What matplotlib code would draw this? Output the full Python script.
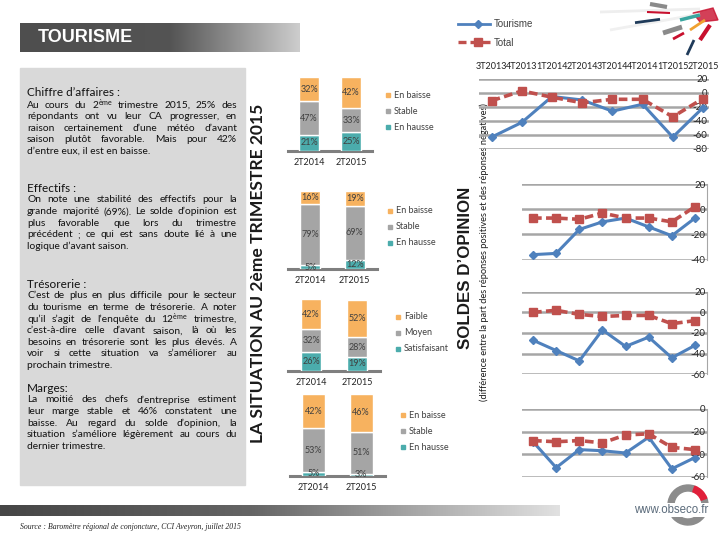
import numpy as np
import matplotlib
matplotlib.use('Agg')
import matplotlib.pyplot as plt
from matplotlib.patches import Rectangle, Wedge, Polygon

plt.rcParams['font.family'] = ['Lato', 'DejaVu Sans']
plt.rcParams['mathtext.fontset'] = 'custom'
plt.rcParams['mathtext.rm'] = 'Lato'
plt.rcParams['mathtext.it'] = 'Lato:italic'
plt.rcParams['mathtext.bf'] = 'Lato:bold'
plt.rcParams['axes.unicode_minus'] = False

# ---- data ----
periods = ['3T2013', '4T2013', '1T2014', '2T2014', '3T2014', '4T2014', '1T2015', '2T2015']
tourisme_ca = [-63, -42, -5, -10, -26, -16, -63, -21]
total_ca = [-11, 3, -6, -14, -9, -9, -34, -8]
tourisme_eff = [-36, -35, -16, -10, -7, -14, -21, -7]
total_eff = [-7, -7, -8, -3, -7, -7, -10, 2]
tourisme_tres = [-27, -37, -47, -17, -33, -24, -44, -32]
total_tres = [0, 2, -2, -4, -3, -3, -11, -8]
tourisme_marg = [-29, -52, -36, -37, -39, -25, -53, -43]
total_marg = [-28, -29, -28, -30, -23, -22, -34, -36]

bar_years = ['2T2014', '2T2015']
ca_hausse, ca_stable, ca_baisse = [21, 25], [47, 33], [32, 42]
eff_hausse, eff_stable, eff_baisse = [5, 12], [79, 69], [16, 19]
tres_satisf, tres_moyen, tres_faible = [26, 19], [32, 28], [42, 52]
marg_hausse, marg_stable, marg_baisse = [5, 3], [53, 51], [42, 46]

ORANGE = '#F7B25F'
GREY = '#A5A5A5'
TEAL = '#4BACAC'
BLUE = '#4F81BD'
RED = '#C0504D'
TXT = '#404040'

fig = plt.figure(figsize=(7.2, 5.4), dpi=100)
bg = fig.add_axes([0, 0, 1, 1])
bg.axis('off')


def px_axes(l, t, r, b):
    ax = fig.add_axes([l / 720, 1 - b / 540, (r - l) / 720, (b - t) / 540])
    ax.set_facecolor('none')
    return ax


def gradient(x0, x1, y0, y1, stops, cols):
    xs = np.linspace(x0, x1, 300)
    rgb = np.stack([np.interp(xs, stops, [c[i] for c in cols]) for i in range(3)], axis=-1) / 255
    bg.imshow(rgb[None, :, :], extent=[x0, x1, y1, y0], aspect='auto', zorder=1)


# title bar + footer bar
gradient(20, 300, 23, 52, [20, 170, 300], [(78, 78, 78), (84, 84, 84), (205, 205, 205)])
gradient(0, 560, 505, 516, [0, 250, 560], [(70, 70, 70), (100, 100, 100), (225, 225, 225)])
bg.set_xlim(0, 720)
bg.set_ylim(540, 0)
bg.text(38, 37, 'TOURISME', color='white', fontsize=13, fontweight='bold',
        family='Liberation Sans', va='center', zorder=2)

# left text panel
bg.add_patch(Rectangle((20, 68), 225, 417, color='#D9D9D9', zorder=1))

renderer = fig.canvas.get_renderer()


def word_width(s, fs):
    t = bg.text(0, 0, s, fontsize=fs)
    w = t.get_window_extent(renderer=renderer).width
    t.remove()
    return w


def paragraph(title, lines, y0, x0=27, x1=237, fs=7.4, dy=11.6):
    bg.text(x0, y0, title, fontsize=8.5, color='#111111', va='center', zorder=2)
    for i, line in enumerate(lines):
        y = y0 + 12 + i * dy
        words = line.split(' ')
        if i == len(lines) - 1:
            bg.text(x0, y, line, fontsize=fs, color='#111111', va='center', zorder=2)
            continue
        widths = [word_width(w, fs) for w in words]
        gap = (x1 - x0 - sum(widths)) / (len(words) - 1)
        x = x0
        for w, wd in zip(words, widths):
            bg.text(x, y, w, fontsize=fs, color='#111111', va='center', zorder=2)
            x += wd + gap


paragraph("Chiffre d’affaires :", [
    r"Au cours du 2$^{\mathrm{ème}}$ trimestre 2015, 25% des",
    "répondants ont vu leur CA progresser, en",
    "raison certainement d’une météo d’avant",
    "saison plutôt favorable. Mais pour 42%",
    "d’entre eux, il est en baisse."], 93)
paragraph("Effectifs :", [
    "On note une stabilité des effectifs pour la",
    "grande majorité (69%). Le solde d’opinion est",
    "plus favorable que lors du trimestre",
    "précédent ; ce qui est sans doute lié à une",
    "logique d’avant saison."], 188)
paragraph("Trésorerie :", [
    "C’est de plus en plus difficile pour le secteur",
    "du tourisme en terme de trésorerie. A noter",
    r"qu’il s’agit de l’enquête du 12$^{\mathrm{ème}}$ trimestre,",
    "c’est-à-dire celle d’avant saison, là où les",
    "besoins en trésorerie sont les plus élevés. A",
    "voir si cette situation va s’améliorer au",
    "prochain trimestre."], 284)
paragraph("Marges:", [
    "La moitié des chefs d’entreprise estiment",
    "leur marge stable et 46% constatent une",
    "baisse. Au regard du solde d’opinion, la",
    "situation s’améliore légèrement au cours du",
    "dernier trimestre."], 388)

bg.text(20, 527, 'Source : Baromètre régional de conjoncture, CCI Aveyron, juillet 2015',
        fontsize=5.6, style='italic', family='Liberation Serif', color='#222222', va='center')

# vertical titles
bg.text(258, 273, 'LA SITUATION AU 2ème TRIMESTRE 2015', rotation=90, ha='center', va='center',
        fontsize=12.6, fontweight='bold', color='#1a1a1a')
bg.text(465, 268, 'SOLDES D’OPINION', rotation=90, ha='center', va='center',
        fontsize=12.2, fontweight='heavy', family='Liberation Sans', color='#1a1a1a')
bg.text(484, 252, '(différence entre la part des réponses positives et des réponses négatives)',
        rotation=90, ha='center', va='center', fontsize=6.7, color='#1a1a1a')


# stacked bars
def bar_chart(l, t, r, b, width, low, mid, high, names, lx, ly):
    ax = px_axes(l, t, r, b)
    x = np.arange(len(bar_years))
    c1 = ax.bar(x, low, width, color=TEAL, edgecolor='white', lw=1)
    c2 = ax.bar(x, mid, width, bottom=low, color=GREY, edgecolor='white', lw=1)
    c3 = ax.bar(x, high, width, bottom=np.add(low, mid), color=ORANGE, edgecolor='white', lw=1)
    for c, vals in zip([c1, c2, c3], [low, mid, high]):
        ax.bar_label(c, labels=[f'{v}%' for v in vals], label_type='center', fontsize=6.5, color=TXT)
    ax.axhline(0, color='#7F7F7F', lw=2.2, clip_on=False, zorder=0)
    ax.set_xlim(-0.5, 1.5)
    ax.set_ylim(0, 100)
    ax.set_xticks(x, bar_years, fontsize=6.5, color='#222222')
    ax.tick_params(length=0, pad=5)
    ax.set_yticks([])
    for s in ax.spines.values():
        s.set_visible(False)
    for i, (nm, col) in enumerate(zip(names, [ORANGE, GREY, TEAL])):
        y = ly + i * 16
        bg.plot(lx, y, marker='s', ms=3.2, color=col, ls='none')
        bg.text(lx + 6, y, nm, fontsize=6.5, color=TXT, va='center')


bar_chart(288, 77.3, 372, 150.7, 0.48, ca_hausse, ca_stable, ca_baisse,
          ['En baisse', 'Stable', 'En hausse'], 388, 95)
bar_chart(288, 191, 377, 269.3, 0.46, eff_hausse, eff_stable, eff_baisse,
          ['En baisse', 'Stable', 'En hausse'], 390, 210.5)
bar_chart(288, 299, 380, 370.7, 0.43, tres_satisf, tres_moyen, tres_faible,
          ['Faible', 'Moyen', 'Satisfaisant'], 398, 316.5)
bar_chart(290, 394, 385, 476, 0.49, marg_hausse, marg_stable, marg_baisse,
          ['En baisse', 'Stable', 'En hausse'], 403, 415)


# opinion balance lines
def line_chart(l, t, r, b, tour, tot, ylim, step, xl, xr, top=False):
    ax = px_axes(l, t, r, b)
    x = np.arange(len(periods))
    ax.plot(x, tour, color=BLUE, lw=2.2, marker='D', ms=4.5, zorder=3, clip_on=False)
    ax.plot(x, tot, color=RED, lw=2.6, ls=(0, (2.4, 1.2)), marker='s', ms=6, zorder=3, clip_on=False)
    ax.set_xlim(xl, xr)
    ax.set_ylim(*ylim)
    ax.set_yticks(np.arange(ylim[0], ylim[1] + 1, step))
    ax.yaxis.tick_right()
    ax.tick_params(axis='y', length=0, pad=-1, labelsize=7, labelcolor='#222222')
    for lab in ax.get_yticklabels():
        lab.set_horizontalalignment('right')
    ax.grid(axis='y', color='#A6A6A6', lw=1.8)
    for s in ['top', 'left', 'bottom']:
        ax.spines[s].set_visible(False)
    ax.spines['right'].set_color('#A6A6A6')
    if top:
        ax.xaxis.tick_top()
        ax.set_xticks(x, periods, fontsize=6.5, color='#222222')
        ax.tick_params(axis='x', length=0, pad=6)
        ax.spines['right'].set_visible(False)
    else:
        ax.set_xticks([])
    return ax


line_chart(479, 79, 709, 149, tourisme_ca, total_ca, (-80, 20), 20, -0.42, 7.2, top=True)
line_chart(521.7, 184, 707, 259.7, tourisme_eff, total_eff, (-40, 20), 20, -0.49, 7.52)
line_chart(521.7, 291.7, 707, 374.3, tourisme_tres, total_tres, (-60, 20), 20, -0.49, 7.52)
line_chart(521.7, 409, 707, 476.7, tourisme_marg, total_marg, (-60, 0), 20, -0.49, 7.52)

# series legend (top right)
bg.plot([458, 490], [24, 24], color=BLUE, lw=2)
bg.plot(478, 24, marker='D', ms=4.5, color=BLUE)
bg.text(494, 24, 'Tourisme', fontsize=7, color=TXT, va='center', family='Liberation Sans')
bg.plot([458, 490], [42, 42], color=RED, lw=2.4, ls=(0, (2.4, 1.2)))
bg.plot(478, 42, marker='s', ms=6, color=RED)
bg.text(494, 43, 'Total', fontsize=7, color=TXT, va='center', family='Liberation Sans')

# decorative logo rays (top right)
for (x0, y0, x1, y1, c, w) in [
        (600, 12, 700, 9, '#eeeeee', 2), (610, 30, 700, 14, '#f0f0f0', 2),
        (650, 4, 667, 7, '#8a8a8a', 3), (647, 12, 670, 13, '#c8102e', 1.5),
        (635, 22.7, 660, 19.3, '#1f3b5a', 2), (663, 33, 682, 27, '#8a8a8a', 3.5),
        (673, 39, 684, 33, '#c8102e', 2), (687, 55, 694, 40, '#1f3b5a', 2),
        (680, 20, 700, 15, '#3aa6a0', 2.5), (690, 30, 705, 20, '#f0a030', 2),
        (700, 40, 710, 25, '#c8102e', 3)]:
    bg.plot([x0, x1], [y0, y1], color=c, lw=w, solid_capstyle='butt')
bg.add_patch(Polygon([(693, 13), (713, 8), (718, 20), (700, 22)], color='#c8102e', alpha=0.8))

# obseco logo (bottom right)
bg.add_patch(Wedge((688, 505), 20, -20, 290, width=6, color='#8c8c8c'))
bg.add_patch(Wedge((688, 505), 20, -70, -20, width=6, color='#e0203a'))
bg.text(671, 510, 'www.obseco.fr', fontsize=8.3, color='#5b6b7b', ha='center', va='center',
        family='Liberation Sans',
        bbox=dict(boxstyle='square,pad=0.1', facecolor='white', edgecolor='none'))

fig.savefig('out.png', dpi=100)
